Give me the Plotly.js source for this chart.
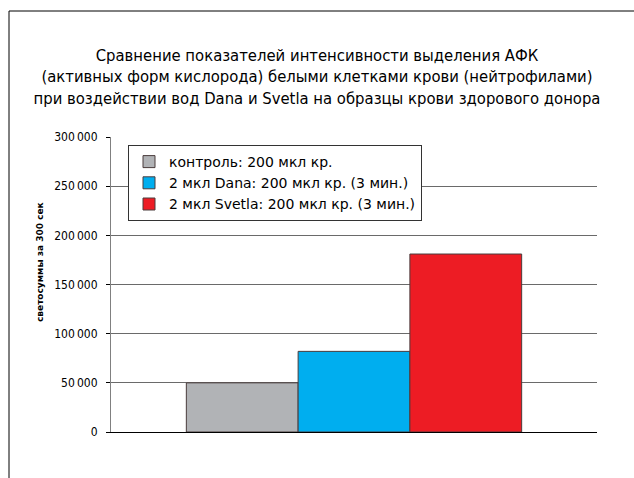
<!DOCTYPE html>
<html>
<head>
<meta charset="utf-8">
<script src="https://cdn.plot.ly/plotly-3.0.1.min.js"></script>
<style>html,body{margin:0;padding:0;background:#fff;}#chart{width:634px;height:478px;}</style>
</head>
<body>
<div id="chart"></div>
<script>
// ---- data ----
const categories = [''];
const seriesNames = [
  'контроль: 200 мкл кр.',
  '2 мкл Dana: 200 мкл кр. (3 мин.)',
  '2 мкл Svetla: 200 мкл кр. (3 мин.)'
];
const seriesValues = [50000, 82000, 181000];
const seriesColors = ['#b1b3b6', '#00aeef', '#ed1c24'];
const yTickValues = [0, 50000, 100000, 150000, 200000, 250000, 300000];
const titleLines = [
  'Сравнение показателей интенсивности выделения АФК',
  '(активных форм кислорода) белыми клетками крови (нейтрофилами)',
  'при воздействии вод Dana и Svetla на образцы крови здорового донора'
];
const yAxisTitle = 'светосуммы за 300 сек';

// ---- traces ----
const traces = seriesNames.map((name, i) => ({
  type: 'bar',
  name: name,
  x: categories,
  y: [seriesValues[i]],
  marker: {color: seriesColors[i], line: {color: '#4a3c3c', width: 1}},
  hoverinfo: 'none'
}));

const W = 634, H = 478;
const L = 111, R = 37, T = 137, B = 46;
const pw = W - L - R, ph = H - T - B;
const px2x = p => (p - L) / pw;
const py2y = p => (H - B - p) / ph;

const layout = {
  width: W, height: H,
  margin: {l: L, r: R, t: T, b: B, pad: 0},
  paper_bgcolor: '#ffffff',
  plot_bgcolor: '#ffffff',
  separators: ',\u2009',
  font: {family: 'DejaVu Sans', color: '#000'},
  title: {
    text: titleLines.join('<br>'),
    font: {family: 'DejaVu Sans Condensed', size: 16.5, color: '#000'},
    x: 0.5, xanchor: 'center', xref: 'container',
    y: 1 - 61 / H, yanchor: 'top', yref: 'container'
  },
  barmode: 'group',
  bargap: 0.31,
  bargroupgap: 0,
  showlegend: true,
  legend: {
    x: px2x(128), y: py2y(145), xanchor: 'left', yanchor: 'top',
    bgcolor: '#ffffff', bordercolor: '#333333', borderwidth: 1,
    font: {family: 'DejaVu Sans', size: 14, color: '#000'},
    traceorder: 'normal'
  },
  xaxis: {
    type: 'category',
    showticklabels: false,
    ticks: '',
    showgrid: false,
    showline: true, linecolor: '#000', linewidth: 1,
    fixedrange: true
  },
  yaxis: {
    range: [0, 300000],
    tickvals: yTickValues,
    tickformat: ',d',
    ticks: 'outside', ticklen: 4, tickcolor: '#000', tickwidth: 1,
    ticklabelstandoff: 6,
    tickfont: {family: 'DejaVu Sans Condensed', size: 12, color: '#000'},
    showgrid: true, gridcolor: '#6a6a6a', gridwidth: 1,
    zeroline: false,
    showline: true, linecolor: '#808080', linewidth: 1,
    fixedrange: true
  },
  annotations: [{
    text: '<b>' + yAxisTitle + '</b>',
    xref: 'paper', yref: 'paper',
    x: px2x(40), y: py2y(262),
    xanchor: 'center', yanchor: 'middle',
    textangle: -90, showarrow: false,
    font: {family: 'DejaVu Sans', size: 9, color: '#000'}
  }],
  shapes: [
    {type: 'line', xref: 'paper', yref: 'paper', x0: px2x(9), x1: px2x(9), y0: py2y(11), y1: py2y(480), line: {color: '#000', width: 1}},
    {type: 'line', xref: 'paper', yref: 'paper', x0: px2x(9), x1: px2x(636), y0: py2y(11), y1: py2y(11), line: {color: '#000', width: 1}}
  ]
};

Plotly.newPlot('chart', traces, layout, {staticPlot: true, displayModeBar: false});
</script>
</body>
</html>
